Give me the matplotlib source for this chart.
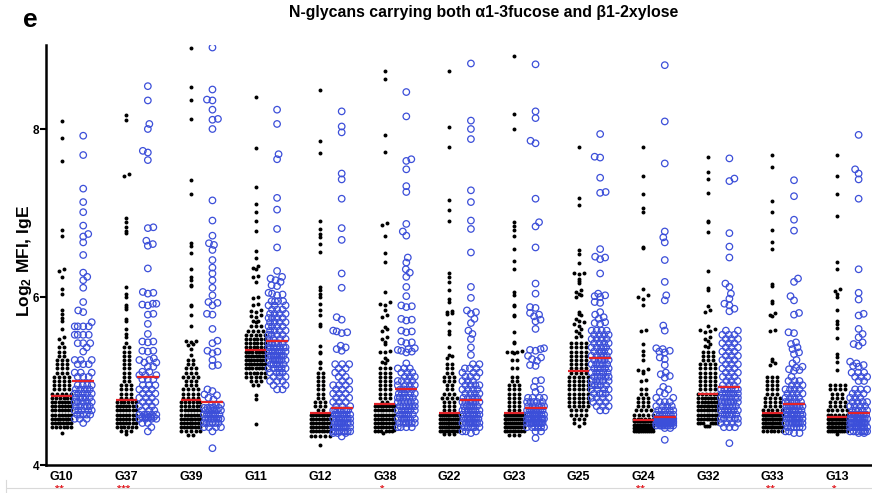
import numpy as np
import matplotlib
matplotlib.use("Agg")
import matplotlib.pyplot as plt
import matplotlib.transforms as mtransforms
from matplotlib.lines import Line2D

plt.rcParams['font.family'] = ['Liberation Sans', 'DejaVu Sans']
plt.rcParams['mathtext.fontset'] = 'custom'
plt.rcParams['mathtext.rm'] = 'Liberation Sans'
plt.rcParams['mathtext.bf'] = 'Liberation Sans:bold'

groups = ["G10", "G37", "G39", "G11", "G12", "G38", "G22",
          "G23", "G25", "G24", "G32", "G33", "G13"]
stars = ["**", "***", "", "", "", "*", "", "", "", "**", "", "**", "*"]

# log2 MFI per serum: a bare number is one serum, (value, n) means n sera at that value
g10_black = [8.10, 7.89, 7.62, 6.80, 6.73, 6.33, 6.31, 6.24, 6.10, 6.04, 5.84, 5.80, 5.75, 5.72, 5.62, 5.52, 5.50,
             (5.45, 1), (5.40, 2), (5.35, 2), (5.30, 2), (5.25, 3), (5.20, 3), (5.15, 3), (5.10, 3), (5.05, 4),
             (5.00, 4), (4.95, 4), (4.90, 4), (4.85, 5), (4.80, 6), (4.75, 7), (4.70, 7), (4.65, 7), (4.60, 7),
             (4.55, 8), (4.50, 8), (4.45, 6), 4.38]
g10_blue = [7.92, 7.69, 7.29, 7.13, 7.01, 6.85, 6.75, 6.72, 6.65, 6.50, 6.29, 6.24, 6.20, 6.11, 5.94, 5.84, 5.82, 5.70,
            (5.65, 4), (5.55, 4), (5.45, 3), 5.40, 5.35, (5.25, 3), (5.20, 3), (5.10, 3), (5.05, 3),
            (4.95, 4), (4.90, 5), (4.85, 5), (4.80, 5), (4.75, 5), (4.70, 5), (4.65, 5), (4.60, 5), (4.55, 3), 4.50]

g37_black = [8.17, 8.11, 7.46, 7.44, 6.94, 6.89, 6.83, 6.78, 6.76, 6.12, 6.04, 6.00, 5.90, 5.88, 5.86, 5.74, 5.72,
             5.62, 5.56, 5.52, (5.45, 1), (5.40, 2), (5.35, 2), (5.30, 2), (5.25, 2), (5.20, 2), (5.15, 2),
             (5.10, 2), (5.05, 2), (5.00, 2), (4.95, 3), (4.90, 3), (4.85, 3), (4.80, 3), (4.75, 6), (4.70, 7),
             (4.65, 7), (4.60, 7), (4.55, 7), (4.50, 7), (4.45, 6), (4.40, 3), 4.37]
g37_blue = [8.51, 8.34, 8.06, 8.00, 7.74, 7.72, 7.63, 6.83, 6.82, 6.67, 6.63, 6.61, 6.34, 6.06, 6.05, 6.04,
            5.92, 5.92, 5.91, 5.90, 5.80, 5.79, 5.68, 5.56, 5.47, 5.47, 5.46, 5.36, 5.36, 5.35, 5.27, 5.17, 5.17,
            5.11, 5.11, (5.25, 2), (5.22, 2), (5.07, 3), (5.02, 3), (4.95, 3), (4.90, 3), (4.85, 3), (4.80, 3),
            (4.75, 3), (4.70, 3), (4.65, 3), (4.60, 5), (4.57, 5), (4.55, 4), (4.50, 2), 4.45, 4.40]

g39_black = [8.97, 8.50, 8.34, 8.12, 7.39, 7.23, 6.64, 6.61, 6.52, 6.33, 6.24, 6.20, 6.14, 6.13, 5.90, 5.89,
             5.78, 5.66, 5.48, 5.48, 5.47, 5.44, 5.43, 5.38, 5.31, (5.25, 2), (5.20, 2), (5.15, 3), (5.10, 3),
             (5.05, 4), (5.00, 3), (4.95, 3), (4.90, 4), (4.85, 4), (4.80, 4), (4.75, 6), (4.70, 6), (4.65, 7),
             (4.60, 7), (4.55, 8), (4.50, 8), (4.45, 8), (4.40, 5), (4.36, 2)]
g39_blue = [8.97, 8.47, 8.35, 8.34, 8.23, 8.12, 8.11, 8.00, 7.15, 6.91, 6.73, 6.64, 6.62, 6.56, 6.44, 6.35,
            6.28, 6.20, 6.11, 6.02, 5.94, 5.93, 5.90, 5.80, 5.79, 5.62, 5.48, 5.45, 5.36, 5.35, 5.33, 5.25,
            5.19, 5.18, 4.90, 4.88, 4.84, 4.83, 4.80, 4.78, (4.72, 3), (4.68, 5), (4.65, 6), (4.60, 7),
            (4.55, 7), (4.50, 6), (4.45, 4), 4.40, 4.20]

g11_black = [8.38, 7.77, 7.31, 7.11, 7.01, 6.91, 6.79, 6.55, 6.47, 6.37, 6.35, 6.33, 6.25, 6.24, 6.18, 6.00,
             5.99, 5.92, 5.91, 5.84, 5.83, 5.82, 5.78, 5.77, 5.76, 5.72, 5.71, 5.70, (5.65, 3), (5.60, 4),
             (5.55, 5), (5.50, 6), (5.45, 6), (5.40, 6), (5.35, 7), (5.30, 9), (5.25, 8), (5.20, 8), (5.15, 7),
             (5.10, 6), (5.05, 5), (5.00, 3), (4.95, 2), 4.83, 4.79, 4.49]
g11_blue = [8.23, 8.06, 7.70, 7.64, 7.18, 7.04, 6.81, 6.59, 6.31, 6.24, 6.22, 6.20, 6.18, 6.14, 6.13, 6.05,
            6.04, 6.03, 6.02, (5.95, 4), (5.90, 3), (5.85, 3), (5.80, 4), (5.75, 4), (5.70, 4), (5.65, 4),
            (5.60, 4), (5.55, 4), (5.50, 4), (5.45, 5), (5.40, 7), (5.35, 7), (5.30, 7), (5.25, 7), (5.20, 5),
            (5.15, 5), (5.10, 4), (5.05, 3), (5.00, 3), (4.95, 2), (4.90, 2)]

g12_black = [8.47, 7.86, 7.72, 6.91, 6.81, 6.75, 6.71, 6.63, 6.53, 6.12, 6.08, 6.03, 6.00, 5.92, 5.84, 5.78,
             5.68, 5.65, 5.42, 5.35, 5.33, 5.23, 5.21, 5.15, (5.10, 2), (5.05, 2), (5.00, 2), (4.95, 2),
             (4.90, 2), (4.85, 2), (4.80, 2), (4.75, 3), (4.70, 3), (4.65, 2), (4.60, 8), (4.55, 8), (4.50, 8),
             (4.45, 8), (4.40, 8), (4.35, 5), 4.24]
g12_blue = [8.21, 8.03, 7.96, 7.47, 7.40, 7.17, 6.82, 6.68, 6.28, 6.11, 5.76, 5.73, 5.60, 5.59, 5.58, 5.57,
            5.42, 5.40, 5.38, 5.36, (5.20, 3), (5.15, 2), (5.10, 2), (5.05, 2), (5.00, 2), (4.95, 3), (4.90, 3),
            (4.85, 3), (4.80, 3), (4.75, 3), (4.70, 3), (4.65, 7), (4.60, 7), (4.55, 8), (4.50, 8), (4.45, 8),
            (4.40, 7), (4.38, 3), 4.34]

g38_black = [8.69, 8.60, 7.93, 7.73, 6.88, 6.86, 6.73, 6.52, 6.42, 6.06, 5.94, 5.92, 5.91, 5.84, 5.78, 5.76,
             5.64, 5.62, 5.60, 5.52, 5.50, 5.47, 5.44, 5.36, 5.35, 5.34, 5.27, 5.25, 5.23, 5.21, (5.15, 3),
             (5.10, 3), (5.05, 3), (5.00, 3), (4.95, 3), (4.90, 3), (4.85, 3), (4.80, 3), (4.75, 2), (4.70, 8),
             (4.65, 8), (4.60, 8), (4.55, 8), (4.50, 8), (4.45, 8), 4.42, (4.40, 6), 4.38]
g38_blue = [8.44, 8.15, 7.64, 7.62, 7.52, 7.32, 7.25, 6.87, 6.78, 6.73, 6.47, 6.41, 6.33, 6.29, 6.24, 6.12,
            6.01, 5.90, 5.89, 5.88, 5.74, 5.73, 5.72, 5.60, 5.59, 5.58, 5.47, 5.46, 5.45, 5.39, 5.38, 5.37,
            5.36, 5.35, 5.34, 5.21, (5.15, 3), (5.10, 3), (5.05, 3), (5.00, 4), (4.95, 4), (4.90, 4), (4.85, 5),
            (4.80, 6), (4.75, 6), (4.70, 6), (4.65, 6), (4.60, 6), (4.55, 6), (4.50, 6), (4.45, 4)]

g22_black = [8.69, 8.02, 7.79, 7.16, 7.04, 6.90, 6.28, 6.24, 6.18, 6.08, 5.98, 5.94, 5.83, 5.82, 5.81, 5.80,
             5.69, 5.60, 5.56, 5.40, 5.31, 5.30, 5.27, (5.20, 2), (5.15, 2), (5.10, 2), (5.05, 3), (5.00, 3),
             (4.95, 2), (4.90, 2), (4.85, 3), (4.80, 4), (4.75, 3), (4.70, 3), (4.65, 3), (4.60, 10), (4.55, 11),
             (4.50, 11), (4.45, 11), (4.40, 9), (4.37, 3)]
g22_blue = [8.78, 8.10, 8.00, 7.88, 7.27, 7.13, 6.91, 6.81, 6.53, 6.12, 5.99, 5.84, 5.82, 5.80, 5.74, 5.69,
            5.60, 5.56, 5.50, 5.40, 5.31, (5.20, 2), (5.15, 3), (5.10, 3), (5.05, 3), (5.00, 3), (4.95, 4),
            (4.90, 4), (4.85, 4), (4.80, 5), (4.75, 6), (4.70, 6), (4.65, 7), (4.60, 7), (4.55, 8), (4.50, 8),
            (4.45, 6), (4.40, 3), 4.38]

g23_black = [8.87, 8.18, 8.00, 6.89, 6.85, 6.80, 6.73, 6.57, 6.43, 6.33, 6.06, 6.02, 5.91, 5.89, 5.79, 5.77,
             5.58, 5.47, 5.45, 5.36, 5.35, 5.35, 5.34, 5.33, (5.25, 2), (5.15, 2), (5.05, 2), (5.00, 2),
             (4.95, 3), (4.90, 3), (4.85, 3), (4.80, 3), (4.75, 3), (4.70, 3), (4.65, 3), (4.60, 10), (4.55, 11),
             (4.50, 11), (4.45, 10), (4.40, 8), (4.36, 3)]
g23_blue = [8.77, 8.21, 8.13, 7.86, 7.83, 7.17, 6.89, 6.84, 6.59, 6.16, 6.04, 5.88, 5.87, 5.81, 5.79, 5.77,
            5.73, 5.71, 5.62, 5.39, 5.38, 5.37, 5.36, 5.30, 5.28, 5.26, 5.24, 5.19, 5.18, 5.01, 5.00, 4.93,
            4.90, 4.87, (4.80, 4), (4.75, 5), (4.70, 6), (4.65, 9), (4.60, 10), (4.55, 11), (4.50, 10),
            (4.45, 6), (4.40, 2), 4.32]

g25_black = [7.79, 7.18, 7.09, 6.56, 6.51, 6.41, 6.29, 6.28, 6.27, 6.22, 6.19, 6.17, 6.08, 6.06, 6.04, 6.02,
             6.00, 5.82, 5.80, 5.78, 5.74, 5.72, 5.70, 5.68, 5.66, 5.62, 5.60, 5.57, 5.54, 5.52, (5.45, 4),
             (5.40, 4), (5.35, 4), (5.30, 4), (5.25, 4), (5.20, 4), (5.15, 4), (5.10, 4), (5.05, 5), (5.00, 5),
             (4.95, 5), (4.90, 5), (4.85, 5), (4.80, 5), (4.75, 5), (4.70, 5), (4.65, 4), (4.60, 4), (4.55, 3),
             (4.50, 2), 4.47]
g25_blue = [7.94, 7.67, 7.66, 7.42, 7.25, 7.24, 6.57, 6.48, 6.47, 6.45, 6.28, 6.04, 6.02, 6.01, 6.00, 5.94,
            5.93, 5.82, 5.79, 5.76, 5.74, 5.70, 5.69, 5.68, (5.60, 4), (5.55, 4), (5.50, 4), (5.45, 4),
            (5.40, 5), (5.35, 5), (5.30, 5), (5.25, 5), (5.20, 5), (5.15, 5), (5.10, 5), (5.05, 5), (5.00, 5),
            (4.95, 5), (4.90, 4), (4.85, 4), (4.80, 4), (4.75, 3), (4.70, 3), (4.65, 2)]

g24_black = [7.79, 7.44, 7.23, 7.06, 7.01, 6.60, 6.58, 6.09, 6.02, 6.00, 5.98, 5.90, 5.61, 5.59, 5.44, 5.36,
             5.31, 5.25, 5.14, 5.13, 5.12, 5.09, 5.01, 5.00, (4.90, 2), (4.85, 2), (4.80, 3), (4.75, 3),
             (4.70, 3), (4.65, 4), (4.60, 5), (4.55, 6), (4.52, 13), (4.48, 14), (4.44, 14), (4.40, 11)]
g24_blue = [8.76, 8.09, 7.59, 6.78, 6.71, 6.65, 6.44, 6.18, 6.02, 5.96, 5.66, 5.60, 5.39, 5.38, 5.36, 5.35,
            5.34, 5.28, 5.26, 5.19, 5.10, 5.08, 5.06, 5.04, 4.93, 4.90, 4.87, 4.85, (4.80, 2), (4.75, 3),
            (4.70, 4), (4.65, 5), (4.60, 8), (4.55, 15), (4.52, 12), (4.50, 12), (4.47, 8), (4.44, 2), 4.30]

g32_black = [7.67, 7.49, 7.41, 7.24, 6.91, 6.89, 6.77, 6.31, 6.11, 6.08, 5.89, 5.84, 5.82, 5.65, 5.62, 5.61,
             5.59, 5.58, 5.52, 5.50, 5.48, 5.44, 5.42, 5.40, (5.35, 3), (5.30, 3), (5.25, 3), (5.20, 4),
             (5.15, 4), (5.10, 4), (5.05, 4), (5.00, 4), (4.95, 4), (4.90, 4), (4.85, 6), (4.80, 7), (4.75, 7),
             (4.70, 8), (4.65, 8), (4.60, 8), (4.55, 8), (4.50, 7), (4.46, 3)]
g32_blue = [7.65, 7.41, 7.38, 6.76, 6.60, 6.47, 6.16, 6.12, 6.04, 5.98, 5.92, 5.90, 5.86, 5.83, (5.60, 2),
            (5.55, 3), (5.50, 3), (5.45, 3), (5.40, 3), (5.35, 3), (5.30, 3), (5.25, 3), (5.20, 3), (5.15, 3),
            (5.10, 3), (5.05, 3), (5.00, 3), (4.95, 3), (4.90, 6), (4.85, 6), (4.80, 6), (4.75, 6), (4.70, 6),
            (4.65, 6), (4.60, 6), (4.55, 5), (4.50, 4), (4.45, 3), 4.26]

g33_black = [7.69, 7.55, 7.14, 7.01, 6.80, 6.65, 6.57, 6.15, 6.13, 5.95, 5.93, 5.81, 5.79, 5.77, 5.61, 5.59,
             5.26, 5.24, 5.21, 5.19, (5.05, 3), (5.00, 3), (4.95, 3), (4.90, 3), (4.85, 3), (4.80, 4),
             (4.75, 4), (4.70, 4), (4.65, 5), (4.60, 11), (4.55, 12), (4.50, 12), (4.45, 11), (4.40, 6)]
g33_blue = [7.39, 7.20, 6.92, 6.79, 6.22, 6.18, 6.01, 5.96, 5.81, 5.79, 5.58, 5.57, 5.46, 5.44, 5.40, 5.38,
            5.34, 5.32, 5.25, 5.21, 5.17, 5.16, 5.14, 5.13, 5.12, 5.05, (5.00, 3), (4.95, 3), (4.90, 4),
            (4.85, 4), (4.80, 4), (4.75, 5), (4.70, 7), (4.65, 8), (4.60, 8), (4.55, 8), (4.50, 8), (4.45, 6),
            (4.40, 2), (4.38, 2)]

g13_black = [7.69, 7.44, 7.23, 6.96, 6.42, 6.33, 6.10, 6.07, 6.04, 6.00, 5.85, 5.71, 5.68, 5.63, 5.51, 5.32,
             5.28, 5.23, 5.13, (4.95, 4), (4.90, 4), (4.85, 3), (4.80, 3), (4.75, 4), (4.70, 4), (4.65, 5),
             (4.60, 6), (4.55, 13), (4.50, 14), (4.45, 14), (4.40, 10), 4.37]
g13_blue = [7.93, 7.52, 7.47, 7.40, 7.17, 6.33, 6.05, 5.97, 5.80, 5.78, 5.62, 5.56, 5.52, 5.46, 5.44, 5.42,
            5.23, 5.21, 5.19, 5.18, 5.17, (5.10, 3), (5.05, 3), (5.00, 2), (4.90, 3), (4.85, 3), (4.80, 3),
            (4.75, 4), (4.70, 4), (4.65, 5), (4.60, 10), (4.55, 11), (4.50, 11), (4.45, 10), (4.40, 7), (4.38, 2)]

black_cols = [g10_black, g37_black, g39_black, g11_black, g12_black, g38_black, g22_black,
              g23_black, g25_black, g24_black, g32_black, g33_black, g13_black]
blue_cols = [g10_blue, g37_blue, g39_blue, g11_blue, g12_blue, g38_blue, g22_blue,
             g23_blue, g25_blue, g24_blue, g32_blue, g33_blue, g13_blue]

BLUE = "#3c4fd9"
RED = "#e32228"


def expand(series):
    out = []
    for item in series:
        if isinstance(item, tuple):
            out += [item[0]] * item[1]
        else:
            out.append(item)
    return np.array(out, dtype=float)


def row_offsets(vals, row_h, gap, half):
    # Prism-style scatter: points sharing a row spread out from the centre
    offs = np.zeros(len(vals))
    rows = np.round(vals / row_h).astype(int)
    for r in np.unique(rows):
        idx = np.where(rows == r)[0]
        idx = idx[np.argsort(vals[idx], kind="stable")]
        n = len(idx)
        if n < 2:
            continue
        step = min(gap, 2 * half / (n - 1))
        slots = (np.arange(n) - (n - 1) / 2) * step
        slots = slots[np.lexsort((slots, np.round(np.abs(slots), 6)))]
        offs[idx] = slots
    return offs


def swarm_offsets(vals, dmin, half, xppu, yppu):
    # beeswarm in pixel space, capped at +-half; crowded points may overlap
    offs = np.zeros(len(vals))
    cand = np.arange(-half, half + 0.01, 0.5)
    placed_x, placed_y = [], []
    flip = 1
    for i in np.argsort(vals, kind="stable"):
        y = vals[i] * yppu
        c = 0.0
        if placed_x:
            px, py = np.array(placed_x), np.array(placed_y)
            near = np.abs(py - y) < dmin
            if near.any():
                dist = np.hypot(cand[:, None] - px[near][None, :], (py[near] - y)[None, :]).min(axis=1)
                ok = dist >= dmin
                if ok.any():
                    score = np.abs(cand) - 0.01 * flip * cand
                    score[~ok] = np.inf
                    c = cand[np.argmin(score)]
                else:
                    c = cand[np.argmax(dist - 0.02 * np.abs(cand))]
                flip = -flip
        placed_x.append(c)
        placed_y.append(y)
        offs[i] = c / xppu
    return offs


W, H = 872, 493
fig = plt.figure(figsize=(W / 100, H / 100), dpi=100)
ax_rect = [46 / W, 28 / H, (W - 46) / W, 420 / H]
ax = fig.add_axes(ax_rect)
xmin, xmax = -0.243, 12.54
ymin, ymax = 4, 9
ax.set_xlim(xmin, xmax)
ax.set_ylim(ymin, ymax)

xppu = ax_rect[2] * W / (xmax - xmin)   # pixels per x unit
yppu = ax_rect[3] * H / (ymax - ymin)   # pixels per y unit

for i in range(len(groups)):
    bv = expand(black_cols[i])
    ov = expand(blue_cols[i])
    bx = i + row_offsets(bv, 0.04, 5.0 / xppu, 9.5 / xppu)
    ox = i + 0.333 + swarm_offsets(ov, 5.2, 8.5, xppu, yppu)
    ax.scatter(bx, bv, s=8, c="black", linewidths=0, zorder=3)
    ax.scatter(ox, ov, s=22, facecolors="none", edgecolors=BLUE, linewidths=0.9, zorder=3)
    mb, mo = np.median(bv), np.median(ov)
    ax.plot([i - 0.16, i + 0.16], [mb, mb], color=RED, lw=1.6, zorder=4, solid_capstyle="butt")
    ax.plot([i + 0.333 - 0.17, i + 0.333 + 0.17], [mo, mo], color=RED, lw=1.6, zorder=4,
            solid_capstyle="butt")

for side in ["top", "right"]:
    ax.spines[side].set_visible(False)
ax.spines["left"].set_linewidth(1.8)
ax.spines["bottom"].set_linewidth(1.8)

ax.set_yticks([4, 6, 8])
ax.set_yticklabels(["4", "6", "8"], fontweight="bold", fontsize=8.5)
ax.tick_params(axis="y", length=4, width=1.5, pad=1)
ax.set_xticks(range(len(groups)))
ax.set_xticklabels(groups, fontweight="bold", fontsize=9)
ax.tick_params(axis="x", length=0, pad=4.0)

trans = mtransforms.blended_transform_factory(ax.transData, ax.transAxes)
for i, s in enumerate(stars):
    if s:
        ax.text(i - 0.04, -0.047, s, transform=trans, ha="center", va="top",
                color=RED, fontsize=8, fontweight="bold")

fig.text(484 / W, 1 - 13 / H, "N-glycans carrying both α1-3fucose and β1-2xylose",
         ha="center", va="center", fontsize=11.4, fontweight="bold")
fig.text(30 / W, 1 - 20 / H, "e", ha="center", va="center", fontsize=19, fontweight="bold")
fig.text(24 / W, 1 - 261 / H, r"$\mathbf{Log_2}$ MFI, IgE", rotation=90,
         ha="center", va="center", fontsize=12.5, fontweight="bold")

fig.add_artist(Line2D([7 / W, 1], [1 - 488 / H] * 2, color="#d9d9d9", lw=0.8))
fig.add_artist(Line2D([6 / W] * 2, [1 - 480 / H, 0], color="#d9d9d9", lw=0.8))

fig.savefig("out.png", dpi=100)
